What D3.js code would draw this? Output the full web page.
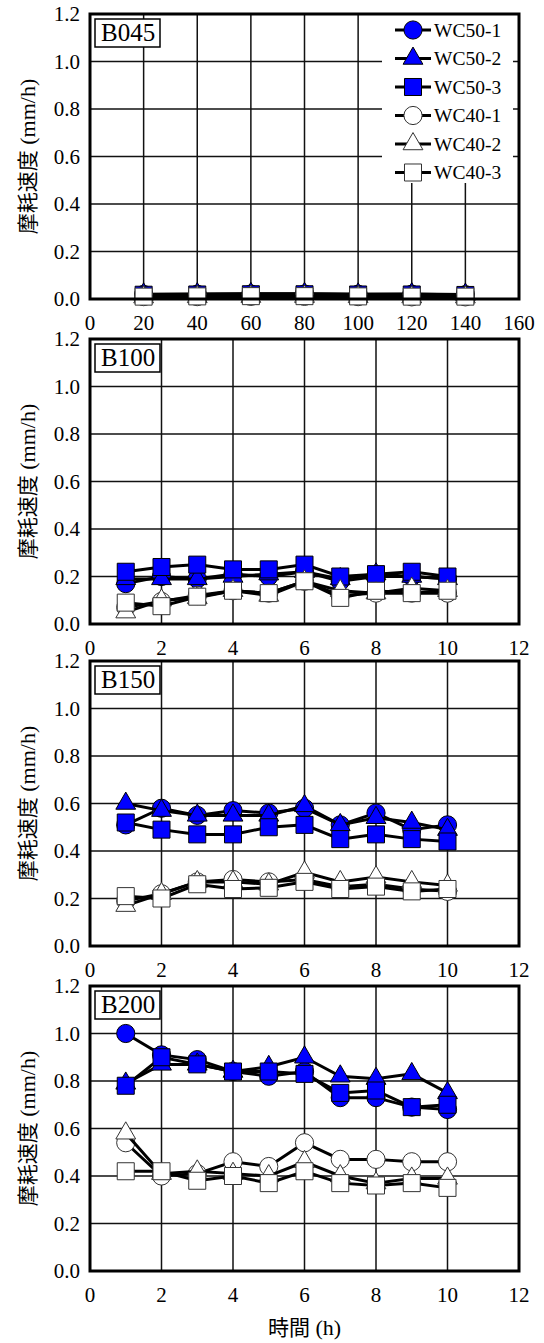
<!DOCTYPE html>
<html>
<head>
<meta charset="utf-8">
<script src="https://cdn.jsdelivr.net/npm/d3@7"></script>
<style>
  body { margin: 0; background: #fff; }
</style>
</head>
<body>
<div id="chart"></div>
<script>
// series and x values
var seriesNames = ["WC50-1", "WC50-2", "WC50-3", "WC40-1", "WC40-2", "WC40-3"];
var panelNames = ["B045", "B100", "B150", "B200"];
var hours045 = [20, 40, 60, 80, 100, 120, 140];
var hours = [1, 2, 3, 4, 5, 6, 7, 8, 9, 10];
var yTicks = [0, 0.2, 0.4, 0.6, 0.8, 1.0, 1.2];
var xTicks045 = [0, 20, 40, 60, 80, 100, 120, 140, 160];
var xTicks = [0, 2, 4, 6, 8, 10, 12];

// wear rate (mm/h), one row per series in seriesNames order
var b045 = [
  [0.019, 0.020, 0.021, 0.021, 0.020, 0.020, 0.018],
  [0.020, 0.021, 0.022, 0.022, 0.020, 0.021, 0.019],
  [0.018, 0.019, 0.020, 0.020, 0.019, 0.019, 0.017],
  [0.010, 0.010, 0.011, 0.011, 0.010, 0.009, 0.009],
  [0.008, 0.009, 0.010, 0.010, 0.009, 0.008, 0.008],
  [0.010, 0.011, 0.012, 0.012, 0.011, 0.010, 0.010]
];
var b100 = [
  [0.17, 0.20, 0.19, 0.21, 0.20, 0.22, 0.18, 0.20, 0.20, 0.19],
  [0.19, 0.19, 0.19, 0.20, 0.21, 0.22, 0.19, 0.21, 0.20, 0.19],
  [0.22, 0.24, 0.25, 0.23, 0.23, 0.25, 0.20, 0.21, 0.22, 0.20],
  [0.07, 0.095, 0.12, 0.14, 0.13, 0.18, 0.12, 0.13, 0.13, 0.13],
  [0.05, 0.10, 0.11, 0.14, 0.12, 0.18, 0.14, 0.13, 0.15, 0.14],
  [0.09, 0.075, 0.115, 0.14, 0.13, 0.18, 0.11, 0.14, 0.13, 0.14]
];
var b150 = [
  [0.51, 0.58, 0.55, 0.57, 0.56, 0.58, 0.51, 0.56, 0.49, 0.51],
  [0.60, 0.57, 0.55, 0.55, 0.55, 0.59, 0.51, 0.54, 0.52, 0.49],
  [0.52, 0.49, 0.47, 0.47, 0.50, 0.51, 0.45, 0.47, 0.45, 0.44],
  [0.19, 0.22, 0.27, 0.28, 0.27, 0.28, 0.25, 0.26, 0.24, 0.23],
  [0.17, 0.22, 0.27, 0.27, 0.26, 0.31, 0.27, 0.29, 0.27, 0.255],
  [0.21, 0.20, 0.26, 0.24, 0.245, 0.27, 0.24, 0.25, 0.23, 0.24]
];
var b200 = [
  [1.00, 0.91, 0.89, 0.84, 0.82, 0.84, 0.73, 0.73, 0.69, 0.68],
  [0.79, 0.87, 0.87, 0.84, 0.86, 0.90, 0.82, 0.81, 0.83, 0.75],
  [0.78, 0.90, 0.87, 0.84, 0.84, 0.83, 0.75, 0.76, 0.69, 0.70],
  [0.54, 0.40, 0.41, 0.46, 0.44, 0.54, 0.47, 0.47, 0.46, 0.46],
  [0.58, 0.41, 0.42, 0.41, 0.40, 0.46, 0.40, 0.37, 0.39, 0.39],
  [0.42, 0.42, 0.38, 0.40, 0.37, 0.42, 0.37, 0.36, 0.37, 0.35]
];

var w = 544, h = 1343;
var left = 90, right = 519, ph = 285;
var tops = [14, 339, 661, 986];
var serif = "'Liberation Serif', 'Times New Roman', Times, serif";
var cjk = "'Noto Sans CJK JP', sans-serif";

var panels = [
  { name: panelNames[0], xs: hours045, data: b045, xmax: 160, ticks: xTicks045 },
  { name: panelNames[1], xs: hours, data: b100, xmax: 12, ticks: xTicks },
  { name: panelNames[2], xs: hours, data: b150, xmax: 12, ticks: xTicks },
  { name: panelNames[3], xs: hours, data: b200, xmax: 12, ticks: xTicks }
];

var fills = ["#0000ff", "#0000ff", "#0000ff", "#fff", "#fff", "#fff"];
var strokes = ["#000", "#000", "#000", "#333", "#333", "#333"];
var shapes = [d3.symbolCircle, d3.symbolTriangle, d3.symbolSquare,
              d3.symbolCircle, d3.symbolTriangle, d3.symbolSquare];
var sizes = [260, 170, 290, 260, 170, 290];

function sym(i) {
  return d3.symbol().type(shapes[i]).size(sizes[i])();
}

var svg = d3.select("#chart").append("svg")
  .attr("width", w)
  .attr("height", h)
  .style("font-family", serif);

// text with a CJK part and a latin part
function mixedText(sel, cjkPart, latinPart, size) {
  sel.attr("font-size", size);
  sel.append("tspan").style("font-family", cjk).attr("font-size", size - 1).text(cjkPart);
  sel.append("tspan").style("font-family", serif).text(" " + latinPart);
}

panels.forEach(function (p, pi) {
  var top = tops[pi];
  var x = d3.scaleLinear().domain([0, p.xmax]).range([left, right]);
  var y = d3.scaleLinear().domain([0, 1.2]).range([top + ph, top]);

  var g = svg.append("g");

  // grid
  g.selectAll(".hgrid").data(yTicks.slice(1, -1)).enter().append("line")
    .attr("x1", left).attr("x2", right)
    .attr("y1", d => y(d)).attr("y2", d => y(d))
    .attr("stroke", "#111").attr("stroke-width", 1.5);
  g.selectAll(".vgrid").data(p.ticks.slice(1, -1)).enter().append("line")
    .attr("x1", d => x(d)).attr("x2", d => x(d))
    .attr("y1", top).attr("y2", top + ph)
    .attr("stroke", "#111").attr("stroke-width", 1.5);

  // legend background only in first panel
  if (pi === 0) {
    g.append("rect")
      .attr("x", 382).attr("y", top + 1)
      .attr("width", 131).attr("height", 168)
      .attr("fill", "#fff");
  }

  // tick labels
  g.selectAll(".ylab").data(yTicks).enter().append("text")
    .attr("x", 80).attr("y", d => y(d))
    .attr("dy", "0.35em")
    .attr("text-anchor", "end")
    .attr("font-size", 21)
    .text(d => d.toFixed(1));
  g.selectAll(".xlab").data(p.ticks).enter().append("text")
    .attr("x", d => x(d)).attr("y", top + ph + 31)
    .attr("text-anchor", "middle")
    .attr("font-size", 21)
    .text(d => d);

  // y title
  var yt = g.append("text")
    .attr("transform", "translate(35," + (top + ph / 2) + ") rotate(-90)")
    .attr("text-anchor", "middle");
  mixedText(yt, "摩耗速度", "(mm/h)", 22);

  // series
  var line = d3.line()
    .x((d, i) => x(p.xs[i]))
    .y(d => y(d));

  p.data.forEach(function (vals, si) {
    g.append("path")
      .attr("d", line(vals))
      .attr("fill", "none")
      .attr("stroke", "#000")
      .attr("stroke-width", 3);
    g.selectAll(".m" + si).data(vals).enter().append("path")
      .attr("d", sym(si))
      .attr("transform", (d, i) => "translate(" + x(p.xs[i]) + "," + y(d) + ")")
      .attr("fill", fills[si])
      .attr("stroke", strokes[si])
      .attr("stroke-width", 1);
  });

  // frame
  g.append("rect")
    .attr("x", left).attr("y", top)
    .attr("width", right - left).attr("height", ph)
    .attr("fill", "none")
    .attr("stroke", "#000")
    .attr("stroke-width", 3);

  // panel label
  g.append("rect")
    .attr("x", left + 5).attr("y", top + 5)
    .attr("width", 65).attr("height", 28)
    .attr("fill", "#fff")
    .attr("stroke", "#000")
    .attr("stroke-width", 1.5);
  g.append("text")
    .attr("x", left + 11).attr("y", top + 27)
    .attr("font-size", 25)
    .text(p.name);

  // legend
  if (pi === 0) {
    var legend = g.selectAll(".legend-item").data(seriesNames).enter().append("g")
      .attr("transform", (d, i) => "translate(413," + (top + 16 + i * 28.5) + ")");
    legend.append("line")
      .attr("x1", -18).attr("x2", 18)
      .attr("stroke", "#000").attr("stroke-width", 3);
    legend.append("path")
      .attr("d", (d, i) => sym(i))
      .attr("fill", (d, i) => fills[i])
      .attr("stroke", (d, i) => strokes[i])
      .attr("stroke-width", 1);
    legend.append("text")
      .attr("x", 21).attr("dy", "0.35em")
      .attr("font-size", 19.5)
      .text(d => d);
  }
});

// x title
var xt = svg.append("text")
  .attr("x", (left + right) / 2).attr("y", 1335)
  .attr("text-anchor", "middle");
mixedText(xt, "時間", "(h)", 22);
</script>
</body>
</html>
